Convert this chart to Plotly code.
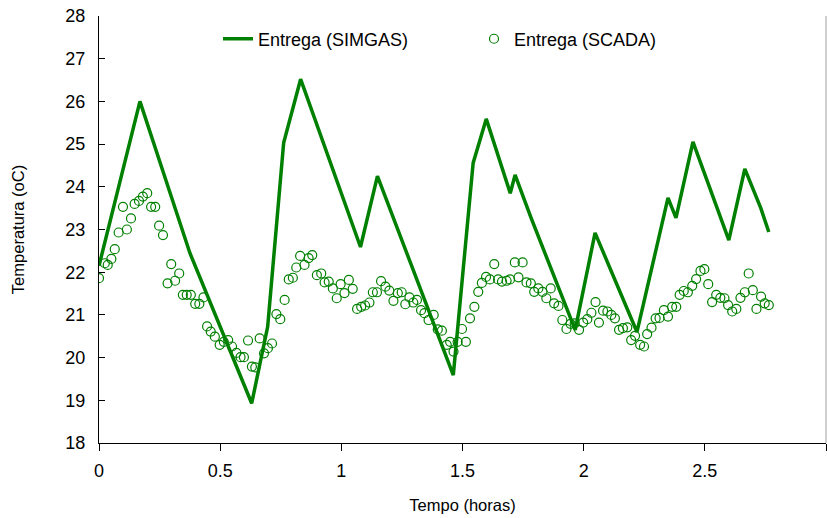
import plotly.graph_objects as go

# SIMGAS simulated delivery temperature (line)
sim_t = [0.0, 0.169, 0.27, 0.375, 0.630, 0.696, 0.762, 0.832, 1.079, 1.149,
         1.462, 1.544, 1.598, 1.697, 1.717, 1.783, 1.965, 2.047, 2.220, 2.348,
         2.381, 2.451, 2.599, 2.665, 2.731, 2.764]
sim_T = [22.15, 26.0, 24.26, 22.45, 18.93, 20.72, 25.03, 26.52, 22.59, 24.25,
         19.59, 24.56, 25.59, 23.85, 24.28, 23.27, 20.65, 22.92, 20.60, 23.74,
         23.27, 25.05, 22.75, 24.42, 23.50, 22.94]

# SCADA measured delivery temperature (open circles)
scada_t = [0.000, 0.024, 0.036, 0.051, 0.065, 0.081, 0.099, 0.115, 0.132, 0.147,
           0.165, 0.181, 0.199, 0.215, 0.232, 0.248, 0.264, 0.283, 0.298, 0.314,
           0.331, 0.346, 0.362, 0.379, 0.397, 0.414, 0.431, 0.446, 0.461, 0.478,
           0.498, 0.515, 0.533, 0.549, 0.567, 0.584, 0.598, 0.615, 0.631, 0.645,
           0.663, 0.681, 0.697, 0.714, 0.732, 0.748, 0.766, 0.783, 0.800, 0.814,
           0.830, 0.848, 0.865, 0.880, 0.899, 0.917, 0.931, 0.948, 0.965, 0.981,
           0.997, 1.013, 1.031, 1.047, 1.065, 1.082, 1.098, 1.116, 1.130, 1.147,
           1.164, 1.182, 1.198, 1.215, 1.233, 1.249, 1.264, 1.281, 1.297, 1.312,
           1.329, 1.343, 1.360, 1.381, 1.398, 1.415, 1.435, 1.449, 1.463, 1.480,
           1.498, 1.514, 1.531, 1.549, 1.565, 1.580, 1.597, 1.613, 1.631, 1.647,
           1.663, 1.682, 1.696, 1.716, 1.731, 1.748, 1.764, 1.782, 1.796, 1.813,
           1.830, 1.846, 1.864, 1.878, 1.896, 1.912, 1.929, 1.946, 1.963, 1.981,
           1.998, 2.015, 2.032, 2.049, 2.063, 2.080, 2.098, 2.114, 2.129, 2.146,
           2.162, 2.180, 2.196, 2.212, 2.233, 2.249, 2.262, 2.280, 2.297, 2.313,
           2.331, 2.348, 2.365, 2.382, 2.396, 2.413, 2.430, 2.448, 2.464, 2.482,
           2.498, 2.514, 2.530, 2.547, 2.564, 2.581, 2.596, 2.613, 2.630, 2.647,
           2.665, 2.681, 2.698, 2.713, 2.732, 2.747, 2.764]
scada_T = [21.86, 22.21, 22.17, 22.31, 22.54, 22.93, 23.53, 23.00, 23.26, 23.60,
           23.67, 23.77, 23.85, 23.53, 23.53, 23.09, 22.87, 21.74, 22.19, 21.80,
           21.97, 21.47, 21.47, 21.47, 21.26, 21.26, 21.41, 20.73, 20.61, 20.49,
           20.30, 20.37, 20.41, 20.26, 20.11, 20.01, 20.01, 20.40, 19.79, 19.77,
           20.45, 20.10, 20.22, 20.33, 21.02, 20.90, 21.35, 21.83, 21.87, 22.11,
           22.38, 22.17, 22.33, 22.40, 21.93, 21.97, 21.76, 21.78, 21.62, 21.39,
           21.72, 21.51, 21.82, 21.61, 21.14, 21.19, 21.22, 21.29, 21.53, 21.53,
           21.79, 21.66, 21.57, 21.33, 21.51, 21.53, 21.25, 21.41, 21.29, 21.35,
           21.11, 21.04, 20.88, 21.00, 20.66, 20.63, 20.30, 20.37, 20.14, 20.37,
           20.67, 20.37, 20.92, 21.19, 21.54, 21.75, 21.89, 21.83, 22.19, 21.83,
           21.78, 21.80, 21.83, 22.23, 21.88, 22.23, 21.76, 21.74, 21.54, 21.62,
           21.54, 21.39, 21.62, 21.27, 21.21, 20.88, 20.67, 20.79, 20.80, 20.65,
           20.82, 20.90, 21.05, 21.30, 20.82, 21.10, 21.08, 21.00, 20.92, 20.65,
           20.69, 20.71, 20.41, 20.51, 20.30, 20.26, 20.55, 20.70, 20.92, 20.93,
           21.11, 20.96, 21.19, 21.19, 21.47, 21.56, 21.53, 21.68, 21.84, 22.03,
           22.07, 21.72, 21.30, 21.47, 21.40, 21.39, 21.23, 21.08, 21.14, 21.40,
           21.53, 21.97, 21.58, 21.14, 21.43, 21.27, 21.23]

x_ticks = [0, 0.5, 1, 1.5, 2, 2.5, 3]
x_labels = ["0", "0.5", "1", "1.5", "2", "2.5", "3"]
y_ticks = list(range(18, 29))

GREEN = "#008000"
FONT = "Liberation Sans, Arial, sans-serif"

fig = go.Figure()
fig.add_trace(go.Scatter(
    x=sim_t, y=sim_T, mode="lines", name="Entrega (SIMGAS)",
    line=dict(color=GREEN, width=3.5),
))
fig.add_trace(go.Scatter(
    x=scada_t, y=scada_T, mode="markers", name="Entrega (SCADA)",
    marker=dict(symbol="circle-open", size=9, color=GREEN, line=dict(width=1.2, color=GREEN)),
))

fig.update_layout(
    width=827, height=518,
    margin=dict(l=99, r=1, t=16, b=75),
    paper_bgcolor="white", plot_bgcolor="white",
    font=dict(family=FONT, size=18, color="black"),
    showlegend=True,
    legend=dict(
        orientation="h", x=0.1637, xanchor="left", y=0.946, yanchor="middle",
        bgcolor="rgba(0,0,0,0)", font=dict(size=18, family=FONT),
        entrywidth=211, entrywidthmode="pixels", itemwidth=30,
    ),
    xaxis=dict(
        range=[0, 3], tickvals=x_ticks, ticktext=x_labels,
        showgrid=False, zeroline=False,
        showline=True, linecolor="black", linewidth=1,
        ticks="outside", ticklen=7, tickcolor="black",
        ticklabelstandoff=4,
        title=dict(text="Tempo (horas)", standoff=19, font=dict(size=16.5)),
        automargin=False,
    ),
    yaxis=dict(
        range=[18, 28], tickvals=y_ticks,
        showgrid=False, zeroline=False,
        showline=True, linecolor="black", linewidth=1,
        ticks="inside", ticklen=6, tickcolor="black",
        ticklabelstandoff=9,
        title=dict(text="Temperatura (oC)", standoff=36, font=dict(size=16.5)),
        automargin=False,
    ),
    shapes=[dict(type="line", xref="paper", yref="paper", x0=1, x1=1, y0=0, y1=1,
                 line=dict(color="#a0a0a0", width=1))],
)

fig.write_html("out.html")
